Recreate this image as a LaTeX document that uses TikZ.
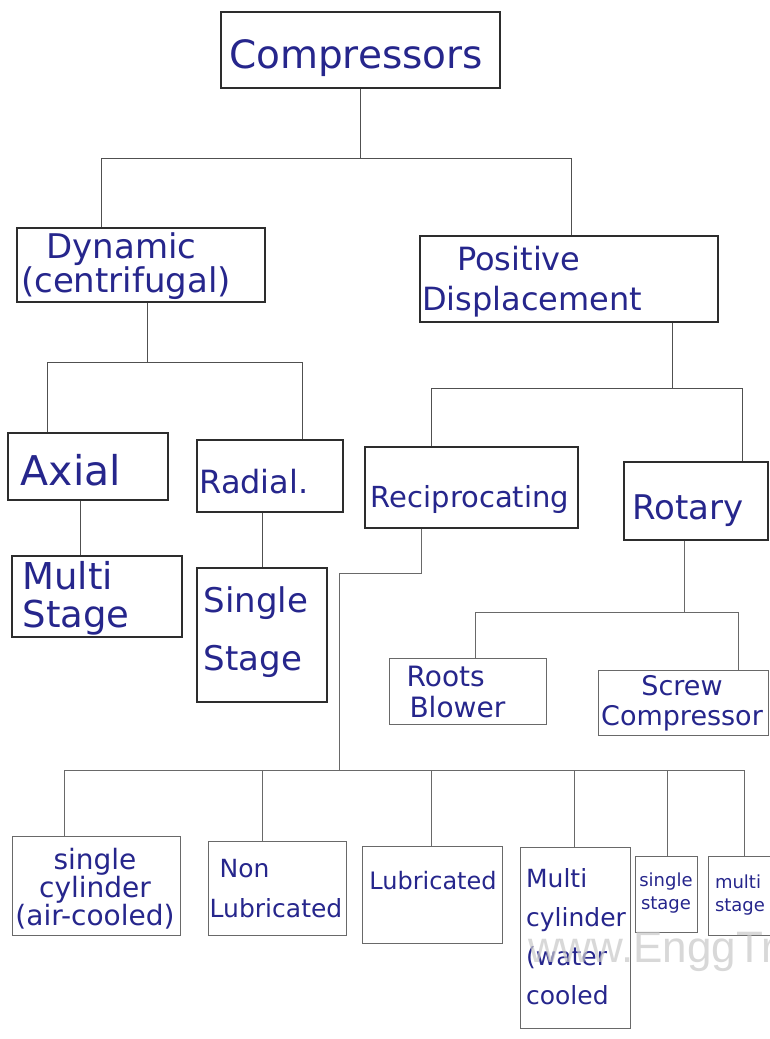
\documentclass[tikz,border=0pt]{standalone}
\usepackage{fontspec}
\setmainfont{DejaVu Sans}
\newfontfamily\markfont{Liberation Sans}
\definecolor{ink}{RGB}{38,38,140}
\definecolor{frame}{RGB}{45,45,45}
\definecolor{lightframe}{RGB}{105,105,105}
\definecolor{wire}{RGB}{80,80,80}
\definecolor{markgrey}{RGB}{200,200,200}
\newcommand{\fs}[2]{\fontsize{#1}{#2}\selectfont}
\tikzset{
  box/.style={draw=frame, line width=1.1pt, inner sep=0pt, rectangle},
  lbox/.style={draw=lightframe, line width=0.9pt, inner sep=0pt, rectangle},
  link/.style={draw=wire, line width=0.9pt},
  llink/.style={draw=lightframe, line width=0.8pt},
  txt/.style={text=ink, inner sep=0pt, align=left},
  ctxt/.style={text=ink, inner sep=0pt, align=center}
}
\begin{document}
\begin{tikzpicture}[x=1pt,y=-1pt]
\useasboundingbox (0,0) rectangle (770,1039);
\fill[white] (0,0) rectangle (770,1039);

% ---- boxes ----
\node[box, minimum width=279, minimum height=76] (comp) at (360.5,50) {};
\node[box, minimum width=248, minimum height=74] (dyn) at (141,265) {};
\node[box, minimum width=298, minimum height=86] (pd) at (569,279) {};
\node[box, minimum width=160, minimum height=67] (axial) at (88,466.5) {};
\node[box, minimum width=146, minimum height=72] (radial) at (270,476) {};
\node[box, minimum width=213, minimum height=81] (recip) at (471.5,487.5) {};
\node[box, minimum width=144, minimum height=78] (rotary) at (696,501) {};
\node[box, minimum width=170, minimum height=81] (multi) at (97,596.5) {};
\node[box, minimum width=130, minimum height=134] (single) at (262,635) {};
\node[lbox, minimum width=157, minimum height=66] (roots) at (467.5,691) {};
\node[lbox, minimum width=170, minimum height=65] (screw) at (683,702.5) {};
\node[lbox, minimum width=168, minimum height=99] (scyl) at (96,885.5) {};
\node[lbox, minimum width=138, minimum height=94] (nonlub) at (277,888) {};
\node[lbox, minimum width=140, minimum height=97] (lub) at (432,894.5) {};
\node[lbox, minimum width=110, minimum height=181] (mcyl) at (575,937.5) {};
\node[lbox, minimum width=62, minimum height=76] (sstage) at (666,894) {};
\node[lbox, minimum width=77, minimum height=79] (mstage) at (746.5,895.5) {};

% ---- labels ----
\node[txt, font=\fs{39}{40}] (compT) at (356,58) {Compressors};
\node[txt, font=\fs{34}{31}] (dynT) at (126,266) {\hspace*{0.75em}Dynamic\\(centrifugal)};
\node[txt, font=\fs{32}{40}] (pdT) at (532,282) {\hspace*{1.1em}Positive\\Displacement};
\node[txt, font=\fs{41}{44}] (axialT) at (71,470) {Axial};
\node[txt, font=\fs{32}{34}] (radialT) at (254,482) {Radial.};
\node[txt, font=\fs{29}{30}] (recipT) at (470,499) {Reciprocating};
\node[txt, font=\fs{34}{36}] (rotaryT) at (688,511) {Rotary};
\node[txt, font=\fs{37}{38}] (multiT) at (76,598) {Multi\\Stage};
\node[txt, font=\fs{34}{58}] (singleT) at (256,632) {Single\\Stage};
\node[txt, font=\fs{28}{31}] (rootsT) at (456,692) {Roots\\\hspace*{0.1em}Blower};
\node[ctxt, font=\fs{27}{30}] (screwT) at (682,703) {Screw\\Compressor};
\node[ctxt, font=\fs{28}{27}] (scylT) at (95,889) {single\\cylinder\\(air-cooled)};
\node[txt, font=\fs{25}{40}] (nonlubT) at (276,889) {\hspace*{0.4em}Non\\Lubricated};
\node[txt, font=\fs{24}{26}] (lubT) at (433,881) {Lubricated};
\node[txt, font=\fs{25}{39}] (mcylT) at (576,937) {Multi\\cylinder\\(water\\cooled};
\node[ctxt, font=\fs{18}{23}] (sstageT) at (666,893) {single\\stage};
\node[txt, font=\fs{18}{23}] (mstageT) at (740,895) {multi\\stage};

% ---- connectors ----
\draw[link] (comp.south) -- ++(0,70) coordinate (bus1);
\draw[link] ([xshift=85]dyn.north west) |- (bus1) -| ([xshift=152]pd.north west);

\draw[link] ([xshift=6]dyn.south) -- ++(0,60) coordinate (bus2);
\draw[link] ([xshift=40]axial.north west) |- (bus2) -| ([xshift=106]radial.north west);

\draw[link] ([xshift=103]pd.south) -- ++(0,66) coordinate (bus3);
\draw[link] ([xshift=67]recip.north west) |- (bus3) -| ([xshift=119]rotary.north west);

\draw[link] ([xshift=-8]axial.south) -- ([xshift=-8]axial.south |- multi.north);
\draw[link] ([xshift=-8]radial.south) -- ([xshift=-8]radial.south |- single.north);

\draw[llink] ([xshift=-12]rotary.south) -- ++(0,72) coordinate (bus4);
\draw[llink] ([xshift=87]roots.north west) |- (bus4) -| ([xshift=141]screw.north west);

\draw[llink] ([xshift=-50.5]recip.south) -- ++(0,45) -- ++(-82,0) -- ++(0,197) coordinate (bus5);
\draw[llink] ([xshift=53]scyl.north west) |- (bus5) -| ([xshift=37]mstage.north west);
\draw[llink] ([xshift=55]nonlub.north west) -- ([xshift=55]nonlub.north west |- bus5);
\draw[llink] ([xshift=70]lub.north west) -- ([xshift=70]lub.north west |- bus5);
\draw[llink] ([xshift=55]mcyl.north west) -- ([xshift=55]mcyl.north west |- bus5);
\draw[llink] ([xshift=33]sstage.north west) -- ([xshift=33]sstage.north west |- bus5);

% ---- site mark ----
\node[anchor=base west, inner sep=0pt, text=markgrey, opacity=0.7, font=\markfont\fs{44}{44}] (mark) at (528,962) {www.EnggTree.com};
\end{tikzpicture}
\end{document}
